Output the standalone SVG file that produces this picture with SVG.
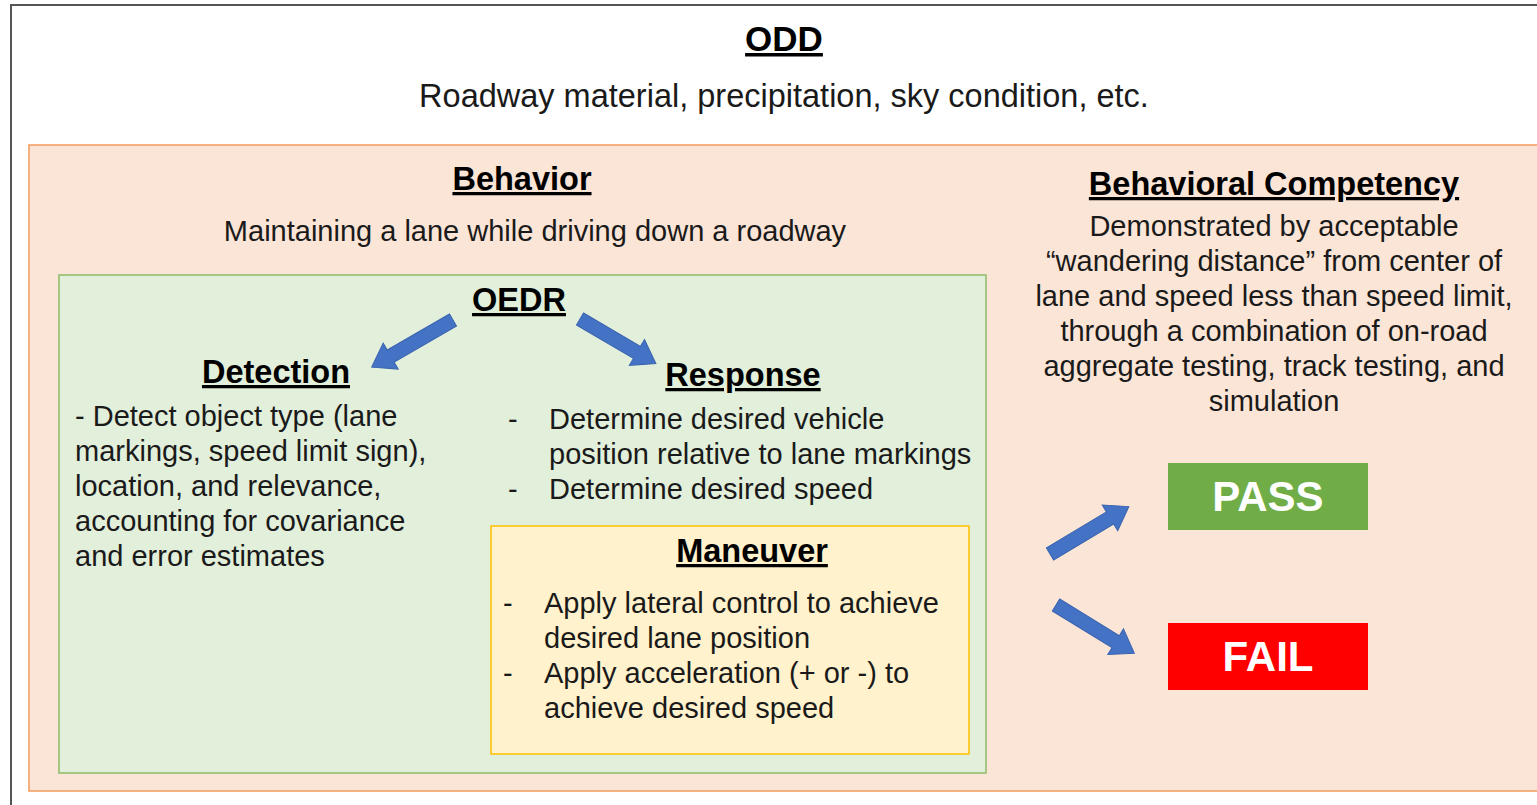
<svg xmlns="http://www.w3.org/2000/svg" width="1537" height="805" viewBox="0 0 1537 805">
  <style>
    text { font-family: "Liberation Sans", Arial, sans-serif; fill: #1a1a1a; }
    .h { font-weight: bold; font-size: 32.5px; text-decoration: underline; fill: #000; }
    .b { font-size: 29px; }
    .sub { font-size: 32.5px; }
    .mid { text-anchor: middle; }
    .verdict { font-weight: bold; font-size: 42px; fill: #fff; text-anchor: middle; }
    .blk { fill: #4472C4; stroke: #3A64B0; stroke-width: 1; }
  </style>

  <rect width="1537" height="805" fill="#ffffff"/>

  <!-- ODD frame -->
  <g id="odd">
    <rect x="11" y="5" width="1540" height="820" fill="#ffffff" stroke="#555555" stroke-width="2"/>
    <text class="h mid" x="784" y="51" style="font-size:35px">ODD</text>
    <text class="sub mid" x="784" y="107">Roadway material, precipitation, sky condition, etc.</text>
  </g>

  <!-- Behavior frame -->
  <g id="behavior">
    <rect x="29" y="145" width="1520" height="646" fill="#FBE5D6" stroke="#F29A5E" stroke-width="1.5"/>
    <text class="h mid" x="522" y="190">Behavior</text>
    <text class="b mid" x="535" y="241">Maintaining a lane while driving down a roadway</text>
  </g>

  <!-- OEDR frame -->
  <g id="oedr">
    <rect x="59" y="275" width="927" height="498" fill="#E2EFDA" stroke="#8DBB69" stroke-width="1.5"/>
    <text class="h mid" x="519" y="311">OEDR</text>
  </g>

  <g id="detection">
    <text class="h mid" x="276" y="383">Detection</text>
    <text class="b" x="75" y="426">- Detect object type (lane</text>
    <text class="b" x="75" y="461">markings, speed limit sign),</text>
    <text class="b" x="75" y="496">location, and relevance,</text>
    <text class="b" x="75" y="531">accounting for covariance</text>
    <text class="b" x="75" y="566">and error estimates</text>
  </g>

  <g id="response">
    <text class="h mid" x="743" y="386">Response</text>
    <text class="b" x="508" y="429">-</text>
    <text class="b" x="549" y="429">Determine desired vehicle</text>
    <text class="b" x="549" y="464">position relative to lane markings</text>
    <text class="b" x="508" y="499">-</text>
    <text class="b" x="549" y="499">Determine desired speed</text>
  </g>

  <g id="maneuver">
    <rect x="491" y="526" width="478" height="228" fill="#FFF2CC" stroke="#FFC000" stroke-width="1.5"/>
    <text class="h mid" x="752" y="562">Maneuver</text>
    <text class="b" x="503" y="613">-</text>
    <text class="b" x="544" y="613">Apply lateral control to achieve</text>
    <text class="b" x="544" y="648">desired lane position</text>
    <text class="b" x="503" y="683">-</text>
    <text class="b" x="544" y="683">Apply acceleration (+ or -) to</text>
    <text class="b" x="544" y="718">achieve desired speed</text>
  </g>

  <g id="competency">
    <text class="h mid" x="1274" y="195">Behavioral Competency</text>
    <text class="b mid" x="1274" y="236">Demonstrated by acceptable</text>
    <text class="b mid" x="1274" y="271">“wandering distance” from center of</text>
    <text class="b mid" x="1274" y="306">lane and speed less than speed limit,</text>
    <text class="b mid" x="1274" y="341">through a combination of on-road</text>
    <text class="b mid" x="1274" y="376">aggregate testing, track testing, and</text>
    <text class="b mid" x="1274" y="411">simulation</text>
  </g>

  <g id="pass">
    <rect x="1168" y="463" width="200" height="67" fill="#70AD47"/>
    <text class="verdict" x="1268" y="511">PASS</text>
  </g>

  <g id="fail">
    <rect x="1168" y="623" width="200" height="67" fill="#FF0000"/>
    <text class="verdict" x="1268" y="671">FAIL</text>
  </g>

  <!-- block arrows -->
  <g id="connectors">
    <polygon class="blk" transform="translate(453,320) rotate(149.9)" points="0,-7 72,-7 72,-15 94,0 72,15 72,7 0,7"/>
    <polygon class="blk" transform="translate(580,319) rotate(30.4)" points="0,-7 66,-7 66,-15 88,0 66,15 66,7 0,7"/>
    <polygon class="blk" transform="translate(1050,554) rotate(-31)" points="0,-7 70,-7 70,-15 92,0 70,15 70,7 0,7"/>
    <polygon class="blk" transform="translate(1056,605) rotate(31.6)" points="0,-7 70,-7 70,-15 92,0 70,15 70,7 0,7"/>
  </g>
</svg>
